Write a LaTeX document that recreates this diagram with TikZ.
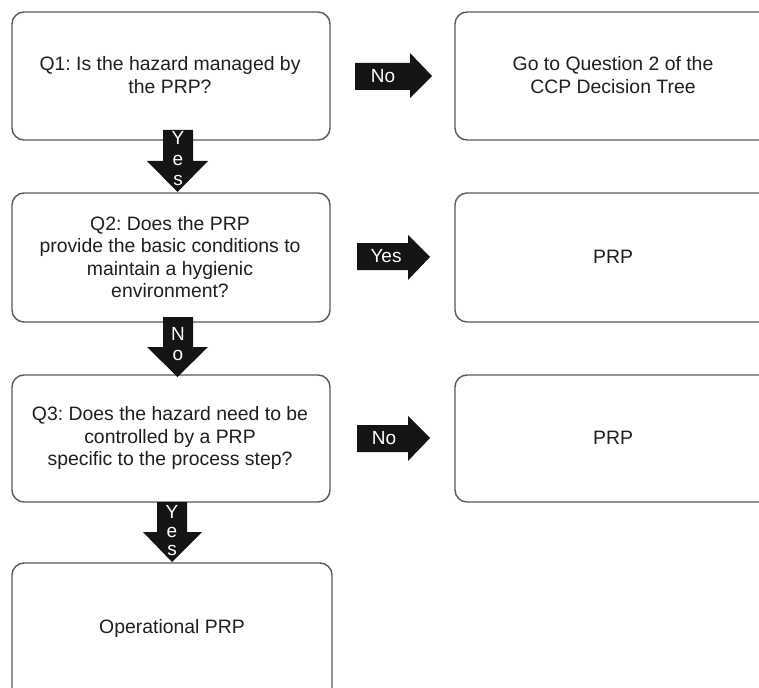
\documentclass[tikz,border=0pt]{standalone}
\usepackage{fontspec}
\setmainfont{Liberation Sans}
\frenchspacing
\begin{document}
\begin{tikzpicture}[x=1pt,y=-1pt,
  qbox/.style={draw=black!65,line width=1.4pt,rounded corners=12pt,fill=white},
  qtext/.style={align=center,font=\fontsize{19.4}{22.6}\selectfont,text=black!88},
  blk/.style={fill=black!92,draw=none},
  atext/.style={text=white,font=\fontsize{19}{20}\selectfont,inner sep=0pt}]
\useasboundingbox (0,0) rectangle (759,687);
\begin{scope}
\clip (0,0) rectangle (759,687);
% left boxes
\draw[qbox] (12,12) rectangle (330,140);
\draw[qbox] (12,193) rectangle (330,322);
\draw[qbox] (12,375) rectangle (330,502);
\draw[qbox] (12,563) rectangle (332,710);
% right boxes
\draw[qbox] (455,12) rectangle (790,140);
\draw[qbox] (455,193) rectangle (790,322);
\draw[qbox] (455,375) rectangle (790,502);
\end{scope}
% texts
\node[qtext] (q1) at (170,75) {Q1: Is the hazard managed by\\the PRP?};
\node[qtext] (r1) at (613,75) {Go to Question 2 of the\\CCP Decision Tree};
\node[qtext] (q2) at (170,257) {Q2: Does the PRP\\provide the basic conditions to\\maintain a hygienic\\environment?};
\node[qtext] (r2) at (613,257) {PRP};
\node[qtext] (q3) at (170,438) {Q3: Does the hazard need to be\\controlled by a PRP\\specific to the process step?};
\node[qtext] (r3) at (613,438) {PRP};
\node[qtext] (op) at (172,628) {Operational PRP};
% right block arrows
\fill[blk] (355,63) -- (410,63) -- (410,53) -- (432,76) -- (410,98) -- (410,90) -- (355,90) -- cycle;
\node[atext] (n1) at (383,76) {No};
\fill[blk] (357,243) -- (408,243) -- (408,235) -- (430,257) -- (408,280) -- (408,270) -- (357,270) -- cycle;
\node[atext] (y1) at (386,256) {Yes};
\fill[blk] (357,425) -- (408,425) -- (408,416) -- (430,438) -- (408,461) -- (408,452) -- (357,452) -- cycle;
\node[atext] (n2) at (384,438) {No};
% down block arrows
\fill[blk] (163,130) -- (193,130) -- (193,161) -- (208,161) -- (177.5,192) -- (147,161) -- (163,161) -- cycle;
\node[atext] (d1a) at (178,138) {Y};
\node[atext] (d1b) at (178,160) {e};
\node[atext] (d1c) at (178,180) {s};
\fill[blk] (163,317) -- (193,317) -- (193,347) -- (208,347) -- (177.5,377) -- (147,347) -- (163,347) -- cycle;
\node[atext] (d2a) at (178,334) {N};
\node[atext] (d2b) at (178,355) {o};
\fill[blk] (157,502) -- (187,502) -- (187,532) -- (202,532) -- (172,562) -- (143,532) -- (157,532) -- cycle;
\node[atext] (d3a) at (172,512) {Y};
\node[atext] (d3b) at (172,532) {e};
\node[atext] (d3c) at (172,550) {s};
\end{tikzpicture}
\end{document}
